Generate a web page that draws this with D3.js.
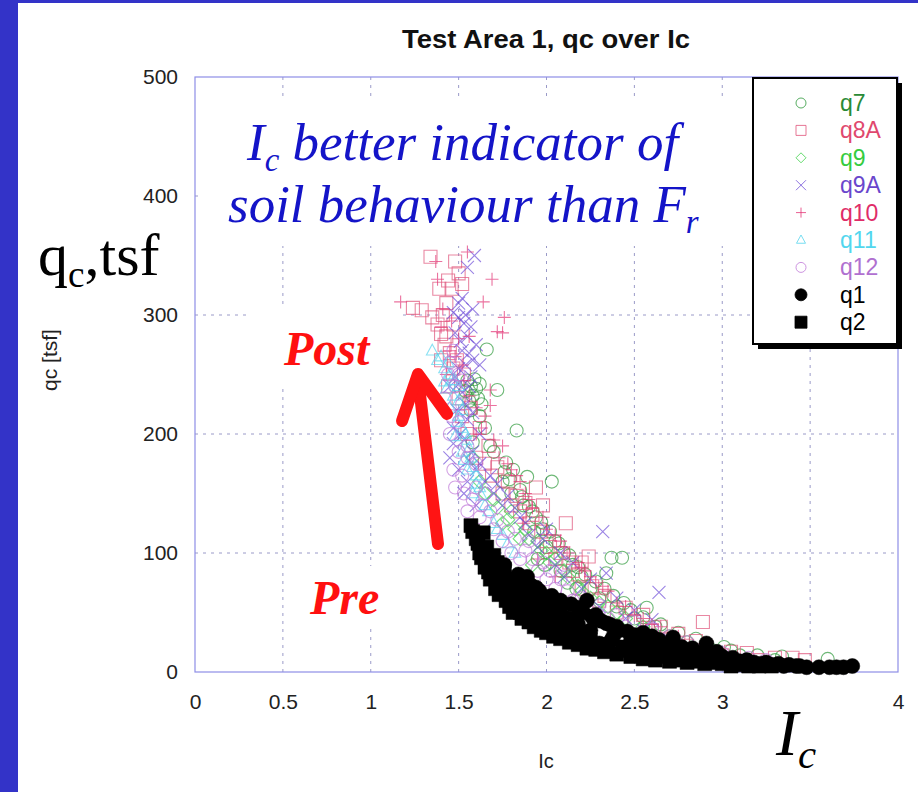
<!DOCTYPE html>
<html>
<head>
<meta charset="utf-8">
<script src="https://cdn.jsdelivr.net/npm/d3@7"></script>
<style>
    body { margin: 0; background: #fff; }
    svg { display: block; }
</style>
</head>
<body>
<div id="chart"></div>
<script>
// points as [Ic, qc]
var q7Data = [[1.55,245],[1.57,240],[1.58,232],[1.60,238],[1.56,228],[1.62,242],[1.66,271],[1.72,237],[1.57,220],[1.65,205],
    [1.58,193],[1.70,185],[1.77,176],[1.81,170],[1.83,203],[1.89,164],[1.85,153],[1.90,139],[1.94,130],[2.03,160],
    [1.98,120],[2.05,110],[2.10,100],[2.15,90],[2.20,80],[2.37,96],[2.43,96],[2.34,83],[2.57,54],[2.50,45],
    [2.62,38],[2.70,30],[2.80,25],[3.01,21],[2.95,18],[3.10,14],[3.34,13],[3.60,11],[1.75,160],[1.80,150],
    [1.87,140],[2.00,105],[2.25,70],[2.40,55],[1.68,190],[1.62,215],[2.08,85],[1.95,95],[2.12,75],[2.30,62],
    [1.54,236],[1.59,246],[1.61,230],[1.63,225],[1.76,168],[1.79,162],[1.86,147],[1.92,135],[1.97,126],[2.02,118],
    [2.07,108],[2.13,98],[2.18,88],[2.22,82],[2.28,76],[2.33,70],[2.38,64],[2.44,58],[2.48,52],[2.55,46],
    [2.65,40],[2.75,33],[2.85,28],[3.05,18],[3.20,14],[3.30,10],[1.93,118],[1.99,90],[2.17,70]];
var q8AData = [[1.34,349],[1.48,345],[1.44,329],[1.50,335],[1.52,326],[1.46,322],[1.39,322],[1.24,306],[1.29,304],[1.35,298],
    [1.38,292],[1.40,284],[1.42,275],[1.45,268],[1.40,262],[1.47,255],[1.44,240],[1.50,230],[1.52,215],[1.55,200],
    [1.60,180],[1.69,165],[1.75,150],[1.80,140],[1.94,155],[1.90,125],[2.00,110],[2.11,125],[2.05,95],[2.15,85],
    [2.24,97],[2.20,70],[2.30,60],[2.40,50],[2.50,42],[2.60,35],[2.89,42],[2.70,28],[2.80,22],[2.90,18],
    [3.14,16],[3.00,14],[3.40,12],[3.47,10],[3.20,10],[1.85,135],[1.65,175],
    [1.43,310],[1.41,300],[1.47,292],[1.43,282],[1.49,262],[1.53,250],[1.57,222],[1.62,205],[1.67,190],[1.72,172],
    [1.78,160],[1.83,148],[1.88,142],[1.92,132],[1.97,118],[2.02,105],[2.08,100],[2.13,92],[2.18,82],[2.26,72],
    [2.33,64],[2.45,54],[2.55,48],[2.65,38],[2.75,32],[2.85,26],[3.05,17],[3.30,12],[1.98,140],[2.20,92]];
var q9Data = [[1.62,160],[1.70,145],[1.80,135],[1.88,120],[1.95,110],[2.05,95],[2.10,85],[2.18,72],[2.25,62],[1.75,125],
    [2.35,55],[2.00,100],[1.58,180],[1.85,112],[2.45,45],[2.55,38],[1.92,90],
    [1.65,150],[1.72,138],[1.78,128],[1.82,120],[1.90,112],[1.97,102],[2.02,92],[2.12,80],[2.20,68],[2.30,58],[2.40,50]];
var q9AData = [[1.59,350],[1.55,340],[1.52,314],[1.58,305],[1.47,302],[1.50,298],[1.53,293],[1.48,285],[1.55,282],[1.60,275],
    [1.52,270],[1.58,262],[1.62,258],[1.50,255],[1.57,248],[1.45,240],[1.52,235],[1.49,220],[1.55,212],[1.47,205],
    [1.53,195],[1.58,185],[1.60,170],[1.50,170],[1.65,160],[1.70,150],[1.75,140],[1.85,130],[1.90,115],[1.95,105],
    [2.32,118],[2.05,90],[2.10,80],[2.20,70],[2.34,83],[2.64,67],[2.30,55],[2.45,45],[2.55,35],[2.70,27],
    [1.62,200],[1.45,180],[1.55,160],[2.00,120],
    [1.50,310],[1.54,300],[1.57,290],[1.51,278],[1.56,268],[1.54,258],[1.48,248],[1.56,240],[1.50,242],[1.54,225],
    [1.58,218],[1.51,200],[1.56,178],[1.62,175],[1.68,165],[1.72,158],[1.78,148],[1.82,138],[1.88,125],[1.98,112],
    [2.08,100],[2.15,92],[2.25,78],[2.40,62],[2.50,52],[2.60,44],[1.47,192],[1.53,150],[1.60,140]];
var q10Data = [[1.17,311],[1.55,353],[1.69,330],[1.64,311],[1.76,298],[1.72,286],[1.75,285],[1.56,282],[1.37,345],[1.38,330],
    [1.40,290],[1.45,270],[1.50,280],[1.43,250],[1.53,245],[1.68,237],[1.68,224],[1.65,215],[1.75,190],[1.80,170],
    [1.85,160],[1.90,145],[1.98,130],[2.05,115],[2.10,105],[2.18,92],[2.22,85],[2.28,75],[2.35,68],[2.40,58],
    [2.50,48],[2.60,40],[1.95,95],[2.05,80],[1.60,200],[1.87,125],
    [1.41,305],[1.46,295],[1.48,265],[1.52,258],[1.56,232],[1.60,222],[1.63,205],[1.70,195],[1.73,180],[1.78,175],
    [1.83,165],[1.88,150],[1.92,138],[2.00,120],[2.08,110],[2.13,100],[2.20,88],[2.25,80],[2.32,72],[2.45,55],
    [2.55,45],[2.65,38],[2.75,30]];
var q11Data = [[1.40,265],[1.42,255],[1.45,250],[1.48,245],[1.43,238],[1.47,232],[1.50,228],[1.45,222],[1.50,215],[1.52,205],
    [1.48,198],[1.55,195],[1.52,185],[1.57,180],[1.55,170],[1.60,165],[1.62,155],[1.35,270],[1.58,150],[1.65,140],
    [1.70,125],[1.75,115],
    [1.44,260],[1.46,245],[1.50,240],[1.52,220],[1.49,210],[1.54,200],[1.56,188],[1.58,172],[1.53,178],[1.60,158],
    [1.63,148],[1.67,135],[1.72,120],[1.78,108],[1.82,100],[1.38,262],[1.42,244]];
var q12Data = [[1.45,260],[1.50,250],[1.48,240],[1.42,230],[1.50,210],[1.45,200],[1.55,190],[1.60,175],[1.52,165],[1.48,155],
    [1.58,145],[1.55,135],[1.62,130],[1.70,120],[1.75,110],[1.80,100],[1.85,95],[1.95,85],[2.00,78],[2.05,70],
    [2.15,60],[2.25,52],[2.35,45],[2.45,38],[2.55,32],[2.65,27],[2.75,22],[2.85,18],[2.95,14],[3.05,11],
    [1.65,150],[1.90,110],[2.10,90],[1.58,120],
    [1.47,270],[1.52,245],[1.44,250],[1.46,215],[1.52,225],[1.50,185],[1.55,180],[1.47,170],[1.53,150],[1.60,155],
    [1.63,140],[1.68,135],[1.72,128],[1.78,118],[1.82,112],[1.88,102],[1.92,95],[1.98,92],[2.02,85],[2.08,78],
    [2.12,68],[2.20,62],[2.30,56],[2.40,48],[2.50,42],[2.60,36],[2.70,30],[2.80,25],[2.90,20],[3.00,16],
    [3.15,12],[3.25,10]];
var q1Data = [[1.89,80],[1.94,71],[2.00,63],[1.95,46],[2.07,55],[2.23,60],[2.30,24],[2.34,41],[2.41,35],[2.55,33],
    [2.32,23],[2.64,27],[2.72,29],[2.77,21],[2.91,24],[2.97,17],[3.06,12],[3.14,10],[3.25,8],[3.32,7],
    [3.38,6],[3.44,5],[3.48,4],[3.55,4],[3.61,4],[3.65,4],[3.69,4],[3.74,5],[1.72,86],[1.78,78],
    [1.85,70],[1.92,62],[2.02,52],[2.12,45],[2.18,40],[2.25,35],[2.38,30],[2.48,26],[2.58,22],[2.68,18],
    [2.85,14],[2.95,11],[3.05,9],[3.20,6],[1.68,95],[1.80,60],[2.10,38],[2.45,20],[1.98,58],[2.28,48],
    [1.84,82],[1.87,76],[1.91,73],[1.96,68],[2.03,64],[2.08,60],[2.14,57],[2.18,54],[2.21,50],[2.26,46],
    [2.31,43],[2.36,40],[2.40,38],[2.46,34],[2.50,31],[2.52,28],[2.60,30],[2.62,24],[2.66,22],[2.70,24],
    [2.75,20],[2.80,18],[2.83,20],[2.88,16],[2.93,15],[3.00,13],[3.02,10],[3.10,9],[3.18,8],[3.22,7],
    [3.28,6],[3.35,5],[3.42,5],[1.76,90],[1.82,66],[1.88,54],[1.92,48],[2.06,42],[2.15,38],[2.22,31],
    [2.37,27],[2.52,20],[2.60,17],[2.73,13],[2.83,11]];
var q2Data = [[1.57,123],[1.64,117],[1.66,105],[1.66,94],[1.72,86],[1.76,80],[1.75,69],[1.80,63],[1.83,55],[2.02,44],
    [2.11,35],[2.20,29],[2.43,21],[2.57,16],[2.45,18],[2.59,13],[2.77,10],[2.93,8],[3.10,6],[3.21,5],
    [3.28,5],[1.60,112],[1.70,98],[1.68,78],[1.78,72],[1.88,60],[1.92,52],[1.98,48],[2.05,40],[2.15,33],
    [2.25,27],[2.35,23],[2.50,17],[2.65,13],[2.85,9],[3.00,7],[1.62,100],[1.73,75],[1.85,50],[1.95,40],
    [1.58,118],[1.61,108],[1.63,96],[1.65,88],[1.67,84],[1.69,80],[1.71,70],[1.73,65],[1.77,60],[1.79,55],
    [1.81,50],[1.86,45],[1.90,42],[1.93,38],[1.97,35],[2.00,33],[2.04,30],[2.08,28],[2.13,25],[2.18,23],
    [2.23,20],[2.28,19],[2.33,17],[2.40,15],[2.48,13],[2.55,11],[2.62,10],[2.70,9],[2.80,8],[2.90,7],
    [3.05,5],[3.15,5],[1.72,92],[1.76,86],[1.82,78],[1.88,70],[1.95,62],[2.02,56],[2.08,50],[2.16,45]];

var seriesNames = ["q7", "q8A", "q9", "q9A", "q10", "q11", "q12", "q1", "q2"];
var seriesData = [q7Data, q8AData, q9Data, q9AData, q10Data, q11Data, q12Data, q1Data, q2Data];

var xTicks = [0, 0.5, 1, 1.5, 2, 2.5, 3, 3.5, 4];
var xTickLabels = ["0", "0.5", "1", "1.5", "2", "2.5", "3", "", "4"];
var yTicks = [0, 100, 200, 300, 400, 500];

// styles per series
var markerShape = ["circle", "square", "diamond", "times", "plus", "triangle", "circle", "dot", "block"];
var markerColor = ["#2f9a3c", "#e0557c", "#3fd24a", "#7050d8", "#e33676", "#58d4ee", "#c07ad8", "#000", "#000"];
var labelColor = ["#2a8a36", "#e0486e", "#35cc40", "#6a46cc", "#e02c68", "#52d6ee", "#b070d0", "#000", "#000"];

var width = 918,
    height = 792;

var svg = d3.select("#chart").append("svg")
    .attr("width", width)
    .attr("height", height);

// slide frame
svg.append("rect").attr("width", width).attr("height", height).attr("fill", "#fff");
svg.append("rect").attr("width", 18).attr("height", height).attr("fill", "#3333c8");
svg.append("rect").attr("width", width).attr("height", 3).attr("fill", "#3333c8");

var x = d3.scaleLinear().domain([0, 4]).range([195, 898]);
var y = d3.scaleLinear().domain([0, 500]).range([672, 77]);

// grid
svg.append("g").selectAll("line")
    .data(xTicks.slice(1, -1))
    .enter().append("line")
    .attr("x1", function(d) { return x(d); })
    .attr("x2", function(d) { return x(d); })
    .attr("y1", y(500)).attr("y2", y(0))
    .attr("stroke", "#9a9ac8")
    .attr("stroke-dasharray", "3,5");
svg.append("g").selectAll("line")
    .data(yTicks.slice(1, -1))
    .enter().append("line")
    .attr("y1", function(d) { return y(d); })
    .attr("y2", function(d) { return y(d); })
    .attr("x1", x(0)).attr("x2", x(4))
    .attr("stroke", "#9a9ac8")
    .attr("stroke-dasharray", "3,5");

// plot border
svg.append("rect")
    .attr("x", x(0)).attr("y", y(500))
    .attr("width", x(4) - x(0)).attr("height", y(0) - y(500))
    .attr("fill", "none")
    .attr("stroke", "#8e8ee6")
    .attr("stroke-width", 1.2);

// white boxes behind the slide annotations
var boxes = [[200, 97, 552, 149], [250, 308, 148, 78], [300, 566, 86, 62], [768, 690, 70, 90]];
svg.append("g").selectAll("rect")
    .data(boxes)
    .enter().append("rect")
    .attr("x", function(d) { return d[0]; })
    .attr("y", function(d) { return d[1]; })
    .attr("width", function(d) { return d[2]; })
    .attr("height", function(d) { return d[3]; })
    .attr("fill", "#fff");

// axes
var xAxis = d3.axisBottom(x).tickValues(xTicks)
    .tickFormat(function(d, i) { return xTickLabels[i]; })
    .tickSize(0).tickPadding(22);
var yAxis = d3.axisLeft(y).tickValues(yTicks).tickSize(0).tickPadding(17);

var gx = svg.append("g").attr("transform", "translate(0," + y(0) + ")").call(xAxis);
var gy = svg.append("g").attr("transform", "translate(" + x(0) + ",0)").call(yAxis);
[gx, gy].forEach(function(g) {
    g.select(".domain").remove();
    g.selectAll("text")
        .attr("font-family", "Liberation Sans, Arial, sans-serif")
        .attr("font-size", 21)
        .attr("fill", "#222");
});

svg.append("text")
    .attr("x", 546).attr("y", 48)
    .attr("text-anchor", "middle")
    .attr("font-family", "Liberation Sans, Arial, sans-serif")
    .attr("font-weight", "bold")
    .attr("font-size", 25)
    .attr("textLength", 288)
    .attr("lengthAdjust", "spacingAndGlyphs")
    .attr("fill", "#111")
    .text("Test Area 1, qc over Ic");

svg.append("text")
    .attr("x", 546).attr("y", 768)
    .attr("text-anchor", "middle")
    .attr("font-family", "Liberation Sans, Arial, sans-serif")
    .attr("font-size", 20)
    .attr("fill", "#222")
    .text("Ic");

svg.append("text")
    .attr("transform", "translate(57,360) rotate(-90)")
    .attr("text-anchor", "middle")
    .attr("font-family", "Liberation Sans, Arial, sans-serif")
    .attr("font-size", 21)
    .attr("fill", "#222")
    .text("qc [tsf]");

function symbolPath(shape, s) {
    if (shape == "circle" || shape == "dot") {
        return "M" + (-s) + ",0A" + s + "," + s + " 0 1,1 " + s + ",0A" + s + "," + s + " 0 1,1 " + (-s) + ",0Z";
    }
    if (shape == "square" || shape == "block") {
        return "M" + (-s) + "," + (-s) + "H" + s + "V" + s + "H" + (-s) + "Z";
    }
    if (shape == "diamond") {
        return "M0," + (-s) + "L" + s + ",0L0," + s + "L" + (-s) + ",0Z";
    }
    if (shape == "times") {
        return "M" + (-s) + "," + (-s) + "L" + s + "," + s + "M" + (-s) + "," + s + "L" + s + "," + (-s);
    }
    if (shape == "plus") {
        return "M" + (-s) + ",0H" + s + "M0," + (-s) + "V" + s;
    }
    // triangle
    return "M0," + (-s) + "L" + (s * 0.9) + "," + (s * 0.65) + "L" + (-s * 0.9) + "," + (s * 0.65) + "Z";
}

function markerSize(shape) {
    if (shape == "dot") return 7.5;
    if (shape == "block") return 7;
    if (shape == "circle") return 6.5;
    if (shape == "diamond") return 7;
    return 6.5;
}

// points
seriesData.forEach(function(data, i) {
    var shape = markerShape[i];
    var filled = (shape == "dot" || shape == "block");
    svg.append("g")
        .attr("class", "series " + seriesNames[i])
        .selectAll("path")
        .data(data)
        .enter().append("path")
        .attr("transform", function(d) { return "translate(" + x(d[0]) + "," + y(d[1]) + ")"; })
        .attr("d", symbolPath(shape, markerSize(shape)))
        .attr("fill", filled ? "#000" : "none")
        .attr("stroke", markerColor[i])
        .attr("stroke-width", filled ? 0.5 : 1.1)
        .attr("stroke-opacity", filled ? 1 : 0.7);
});

// legend
var legend = svg.append("g");
legend.append("rect")
    .attr("x", 758).attr("y", 83).attr("width", 144).attr("height", 266)
    .attr("fill", "#000");
legend.append("rect")
    .attr("x", 753).attr("y", 78).attr("width", 144).attr("height", 266)
    .attr("fill", "#fff")
    .attr("stroke", "#000")
    .attr("stroke-width", 2);

var rows = legend.selectAll("g.row")
    .data(seriesNames)
    .enter().append("g")
    .attr("class", "row")
    .attr("transform", function(d, i) { return "translate(0," + (103 + i * 27.4) + ")"; });

rows.append("path")
    .attr("transform", "translate(801,0)")
    .attr("d", function(d, i) {
        var shape = markerShape[i];
        var s = (shape == "dot" || shape == "block") ? 6 : 5;
        return symbolPath(shape, s);
    })
    .attr("fill", function(d, i) { return markerShape[i] == "dot" || markerShape[i] == "block" ? "#000" : "none"; })
    .attr("stroke", function(d, i) { return markerColor[i]; })
    .attr("stroke-opacity", 0.8);

rows.append("text")
    .attr("x", 840).attr("y", 8)
    .attr("font-family", "Liberation Sans, Arial, sans-serif")
    .attr("font-size", 23)
    .attr("fill", function(d, i) { return labelColor[i]; })
    .text(function(d) { return d; });

// slide annotations
function serifText(xPos, yPos, size, color, style, weight, parts) {
    var t = svg.append("text")
        .attr("x", xPos).attr("y", yPos)
        .attr("font-family", "Liberation Serif, Times New Roman, serif")
        .attr("font-size", size)
        .attr("font-style", style)
        .attr("font-weight", weight)
        .attr("fill", color);
    parts.forEach(function(p) {
        var span = t.append("tspan").text(p[0]);
        if (p[1]) {
            span.attr("font-size", size * 0.62).attr("dy", size * 0.2);
        } else if (p[2]) {
            span.attr("dy", -size * 0.2);
        }
    });
    return t;
}

serifText(247, 160, 53, "#1414c8", "italic", "normal", [["I"], ["c", true], [" better indicator of", false, true]]);
serifText(228, 222, 53, "#1414c8", "italic", "normal", [["soil behaviour than F"], ["r", true]]);
serifText(38, 275, 60, "#000", "normal", "normal", [["q"], ["c", true], [",tsf", false, true]]);
serifText(284, 365, 48, "#ff1010", "italic", "bold", [["Post"]]);
serifText(310, 614, 48, "#ff1010", "italic", "bold", [["Pre"]]);
serifText(776, 755, 66, "#000", "italic", "normal", [["I"], ["c", true]]);

// red arrow, Pre -> Post
var arrow = svg.append("g")
    .attr("stroke", "#ff1414")
    .attr("stroke-width", 12)
    .attr("stroke-linecap", "round")
    .attr("stroke-linejoin", "round")
    .attr("fill", "none");
arrow.append("line")
    .attr("x1", 438).attr("y1", 544).attr("x2", 418).attr("y2", 378);
arrow.append("path")
    .attr("d", "M402,421L418,374L447,414");
</script>
</body>
</html>
